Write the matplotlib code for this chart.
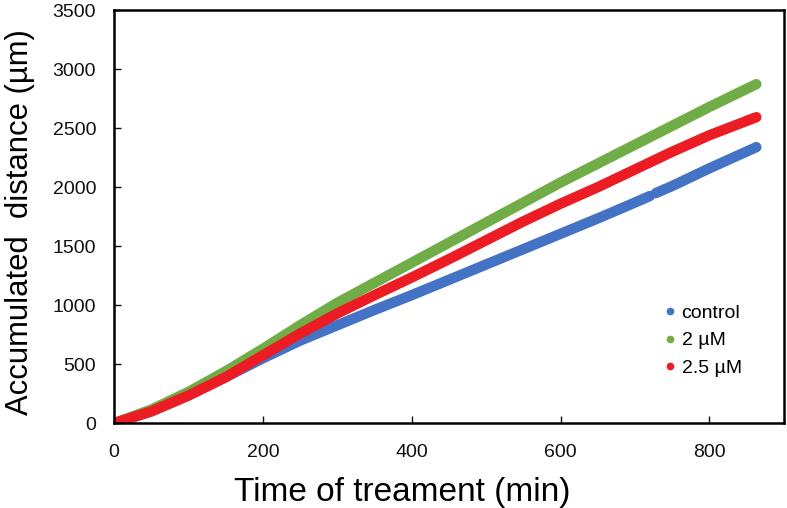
import matplotlib.pyplot as plt
from matplotlib.lines import Line2D

plt.rcParams['font.family'] = ['Liberation Sans', 'DejaVu Sans']

# time (min) and accumulated distance (um)
time = [0, 50, 100, 150, 200, 250, 300, 350, 400, 450, 500, 550, 600, 650, 700, 750, 800, 863]
green_2uM = [0, 115, 265, 440, 630, 830, 1020, 1190, 1360, 1530, 1700, 1870, 2040, 2200, 2360, 2520, 2680, 2873]
red_25uM = [0, 100, 235, 390, 575, 760, 930, 1085, 1235, 1390, 1550, 1710, 1860, 2000, 2150, 2300, 2440, 2593]

# control has a small gap around 720-728 min
ctrl_time_a = [0, 50, 100, 150, 200, 250, 300, 350, 400, 450, 500, 550, 600, 650, 700, 720]
ctrl_dist_a = [0, 100, 235, 390, 550, 700, 830, 960, 1085, 1215, 1345, 1475, 1605, 1735, 1870, 1925]
ctrl_time_b = [728, 750, 800, 863]
ctrl_dist_b = [1950, 2010, 2160, 2339]

labels = ['control', '2 µM', '2.5 µM']
colors = ['#4472C4', '#70AD47', '#EC1C24']

fig = plt.figure(figsize=(7.87, 5.08), dpi=100)
ax = fig.add_axes([0.145, 0.167, 0.851, 0.813])

lw = 7.5
ax.plot(ctrl_time_a, ctrl_dist_a, color=colors[0], lw=lw, solid_capstyle='round')
ax.plot(ctrl_time_b, ctrl_dist_b, color=colors[0], lw=lw, solid_capstyle='round')
ax.plot(time, green_2uM, color=colors[1], lw=lw, solid_capstyle='round')
ax.plot(time, red_25uM, color=colors[2], lw=lw, solid_capstyle='round')

ax.set_xlim(0, 900)
ax.set_ylim(0, 3500)
ax.set_xticks([0, 200, 400, 600, 800])
ax.set_yticks(range(0, 3501, 500))
ax.tick_params(direction='in', length=5, width=1, labelsize=14, colors='#111111')
ax.tick_params(axis='y', pad=13)
ax.tick_params(axis='x', pad=15)
for s in ax.spines.values():
    s.set_linewidth(1.8)
    s.set_color('black')

ax.set_xlabel('Time of treament (min)', fontsize=24, va='center')
ax.xaxis.set_label_coords(0.43, -0.167)
ax.set_ylabel('Accumulated  distance (µm)', fontsize=22.3, va='center')
ax.yaxis.set_label_coords(-0.14, 0.487)

handles = [Line2D([], [], marker='o', linestyle='', color=c, markersize=4.5) for c in colors]
ax.legend(handles, labels, loc='upper left', bbox_to_anchor=(0.795, 0.33), frameon=False,
          fontsize=14, handlelength=0.6, handletextpad=0.3, labelspacing=0.5)

fig.savefig('out.png', dpi=100)
